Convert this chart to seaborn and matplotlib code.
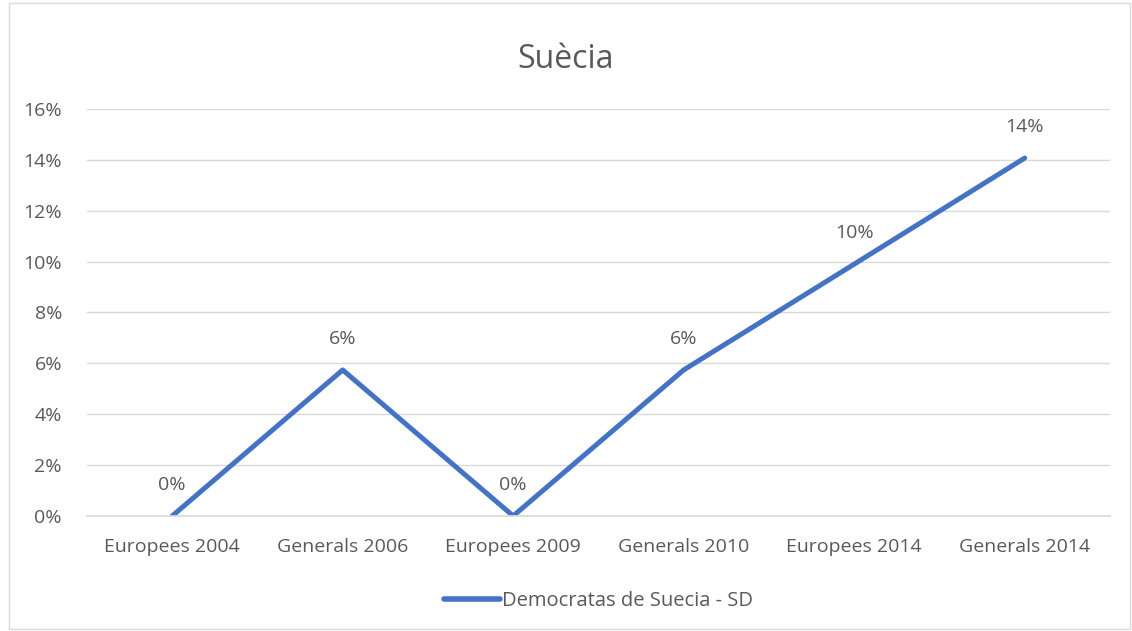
import matplotlib
matplotlib.use("Agg")
import matplotlib.pyplot as plt
import matplotlib.ticker as mticker
import seaborn as sns
import pandas as pd

# -----------------------------------------------------
# Data
# -----------------------------------------------------
elections = ["Europees 2004", "Generals 2006", "Europees 2009",
             "Generals 2010", "Europees 2014", "Generals 2014"]
share = [0.0, 0.0574, 0.0, 0.0574, 0.099, 0.1407]
labels = ["0%", "6%", "0%", "6%", "10%", "14%"]
series = "Democratas de Suecia - SD"

df = pd.DataFrame({"election": elections, "share": share, "series": series})

sns.set_theme(style="white")
plt.rcParams["font.family"] = ["Open Sans", "DejaVu Sans"]
text_color = "#595959"
line_color = "#4472C4"

fig = plt.figure(figsize=(11.32, 6.31), dpi=100)
ax = fig.add_axes([0.0768, 0.1823, 0.9037, 0.645])

sns.lineplot(data=df, x="election", y="share", hue="series", palette=[line_color],
             linewidth=3.6, sort=False, ax=ax)
for ln in ax.get_lines():
    ln.set_solid_capstyle("round")
    ln.set_solid_joinstyle("round")

ax.set_xlim(-0.5, len(elections) - 0.5)
ax.set_ylim(0, 0.16)
ax.yaxis.set_major_locator(mticker.MultipleLocator(0.02))
ax.yaxis.set_major_formatter(mticker.FuncFormatter(lambda v, _: f"{v*100:.0f}%"))
ax.grid(axis="y", color="#D9D9D9", linewidth=1)
ax.set_axisbelow(True)
for s in ["top", "right", "left"]:
    ax.spines[s].set_visible(False)
ax.spines["bottom"].set_color("#D9D9D9")
ax.tick_params(axis="both", colors=text_color, labelsize=14, length=0)
ax.tick_params(axis="x", pad=16)
ax.tick_params(axis="y", pad=18)
ax.set_xlabel("")
ax.set_ylabel("")

for i, (v, lab) in enumerate(zip(share, labels)):
    ax.annotate(lab, (i, v), xytext=(0, 16), textcoords="offset points",
                ha="center", va="bottom", color=text_color, fontsize=14)

fig.text(0.5, 0.906, "Suècia", ha="center", va="center", fontsize=23, color=text_color)

leg = ax.legend(loc="center", bbox_to_anchor=(0.5, -0.209), frameon=False,
                fontsize=14.5, handlelength=2.8, handletextpad=0.1)
for t in leg.get_texts():
    t.set_color(text_color)
for h in leg.get_lines():
    h.set_linewidth(4)

# chart border
fig.patches.append(plt.Rectangle((0.008, 0.003), 0.99, 0.992, transform=fig.transFigure,
                                 fill=False, edgecolor="#D9D9D9", linewidth=1))

fig.savefig("out.png", dpi=100)
